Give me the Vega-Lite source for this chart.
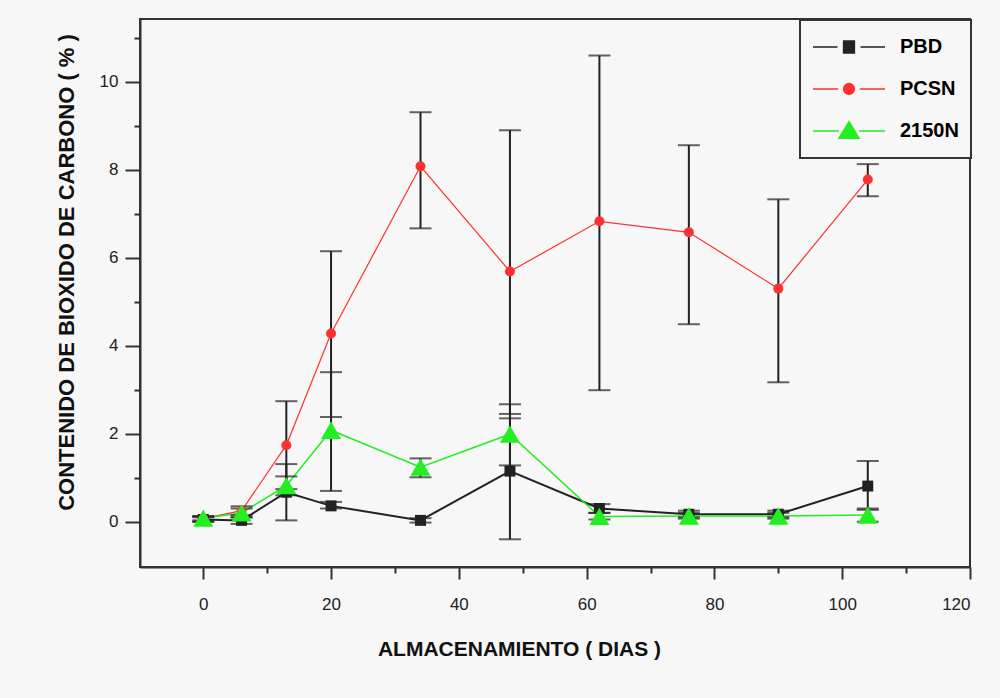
{
  "$schema": "https://vega.github.io/schema/vega-lite/v6.json",
  "width": 830,
  "height": 548,
  "autosize": "none",
  "padding": {"left": 140, "top": 19, "right": 30, "bottom": 131},
  "background": "#f7f7f7",
  "config": {
    "view": {"stroke": "#333", "strokeWidth": 2, "fill": "#f7f7f7"},
    "font": "Liberation Sans",
    "legend": {"strokeWidth": 2}
  },
  "resolve": {"legend": {"color": "independent"}},
  "data": {
    "values": [
      {"serie": "PBD", "dia": 0, "valor": 0.05, "inf": 0.0, "sup": 0.1},
      {"serie": "PBD", "dia": 6, "valor": 0.03, "inf": -0.05, "sup": 0.1},
      {"serie": "PBD", "dia": 13, "valor": 0.67, "inf": 0.03, "sup": 1.31},
      {"serie": "PBD", "dia": 20, "valor": 0.36, "inf": 0.3, "sup": 0.45},
      {"serie": "PBD", "dia": 34, "valor": 0.03, "inf": -0.02, "sup": 0.08},
      {"serie": "PBD", "dia": 48, "valor": 1.15, "inf": -0.4, "sup": 2.67},
      {"serie": "PBD", "dia": 62, "valor": 0.3, "inf": 0.2, "sup": 0.4},
      {"serie": "PBD", "dia": 76, "valor": 0.17, "inf": 0.1, "sup": 0.25},
      {"serie": "PBD", "dia": 90, "valor": 0.17, "inf": 0.1, "sup": 0.25},
      {"serie": "PBD", "dia": 104, "valor": 0.81, "inf": 0.27, "sup": 1.38},
      {"serie": "PCSN", "dia": 0, "valor": 0.07, "inf": 0.0, "sup": 0.12},
      {"serie": "PCSN", "dia": 6, "valor": 0.25, "inf": 0.15, "sup": 0.35},
      {"serie": "PCSN", "dia": 13, "valor": 1.74, "inf": 0.74, "sup": 2.74},
      {"serie": "PCSN", "dia": 20, "valor": 4.28, "inf": 2.38, "sup": 6.15},
      {"serie": "PCSN", "dia": 34, "valor": 8.08, "inf": 6.67, "sup": 9.31},
      {"serie": "PCSN", "dia": 48, "valor": 5.69, "inf": 2.45, "sup": 8.9},
      {"serie": "PCSN", "dia": 62, "valor": 6.83, "inf": 2.99, "sup": 10.6},
      {"serie": "PCSN", "dia": 76, "valor": 6.58, "inf": 4.49, "sup": 8.56},
      {"serie": "PCSN", "dia": 90, "valor": 5.3, "inf": 3.17, "sup": 7.33},
      {"serie": "PCSN", "dia": 104, "valor": 7.78, "inf": 7.4, "sup": 8.13},
      {"serie": "2150N", "dia": 0, "valor": 0.08, "inf": 0.03, "sup": 0.13},
      {"serie": "2150N", "dia": 6, "valor": 0.2, "inf": 0.1, "sup": 0.3},
      {"serie": "2150N", "dia": 13, "valor": 0.82, "inf": 0.6, "sup": 1.03},
      {"serie": "2150N", "dia": 20, "valor": 2.08, "inf": 0.7, "sup": 3.4},
      {"serie": "2150N", "dia": 34, "valor": 1.24, "inf": 1.01, "sup": 1.44},
      {"serie": "2150N", "dia": 48, "valor": 1.99, "inf": 1.28, "sup": 2.35},
      {"serie": "2150N", "dia": 62, "valor": 0.12, "inf": 0.05, "sup": 0.2},
      {"serie": "2150N", "dia": 76, "valor": 0.13, "inf": 0.07, "sup": 0.2},
      {"serie": "2150N", "dia": 90, "valor": 0.13, "inf": 0.07, "sup": 0.2},
      {"serie": "2150N", "dia": 104, "valor": 0.15, "inf": 0.0, "sup": 0.3}
    ]
  },
  "encoding": {
    "x": {
      "field": "dia",
      "type": "quantitative",
      "scale": {"domain": [-9.9, 120], "nice": false, "zero": false},
      "axis": {
        "values": [0, 10, 20, 30, 40, 50, 60, 70, 80, 90, 100, 110, 120],
        "labelExpr": "datum.value % 20 === 0 ? datum.label : ''",
        "tickSize": {"condition": {"test": "datum.value % 20 === 0", "value": 12}, "value": 6},
        "tickColor": "#333",
        "tickWidth": 2,
        "domainColor": "#333",
        "domainWidth": 2,
        "grid": false,
        "labelFont": "Liberation Sans",
        "labelFontSize": 17,
        "labelColor": "#222",
        "labelPadding": 17,
        "title": "ALMACENAMIENTO ( DIAS )",
        "titleFont": "Liberation Sans",
        "titleFontSize": 21,
        "titleFontWeight": "bold",
        "titleColor": "#111",
        "titleX": 379,
        "titleY": 88,
        "titleBaseline": "alphabetic"
      }
    }
  },
  "layer": [
    {
      "mark": {"type": "line"},
      "encoding": {
        "y": {
          "field": "valor",
          "type": "quantitative",
          "scale": {"domain": [-1.03, 11.43], "nice": false, "zero": false},
          "axis": {
            "values": [0, 1, 2, 3, 4, 5, 6, 7, 8, 9, 10, 11],
            "labelExpr": "datum.value % 2 === 0 ? datum.label : ''",
            "tickSize": {"condition": {"test": "datum.value % 2 === 0", "value": 15}, "value": 6},
            "tickColor": "#333",
            "tickWidth": 2,
            "domainColor": "#333",
            "domainWidth": 2,
            "grid": false,
            "labelFont": "Liberation Sans",
            "labelFontSize": 17,
            "labelColor": "#222",
            "labelPadding": 7,
            "title": "CONTENIDO DE BIOXIDO DE CARBONO ( % )",
            "titleFont": "Liberation Sans",
            "titleFontSize": 22,
            "titleFontWeight": "bold",
            "titleColor": "#111",
            "titleX": -67,
            "titleY": 253,
            "titleBaseline": "alphabetic"
          }
        },
        "color": {
          "field": "serie",
          "type": "nominal",
          "scale": {"domain": ["PBD", "PCSN", "2150N"], "range": ["#222222", "#ff3030", "#22ee22"]},
          "legend": {
            "title": null,
            "orient": "none",
            "legendX": 660,
            "legendY": 1,
            "direction": "vertical",
            "padding": 12,
            "strokeColor": "#333",
            "fillColor": "#f7f7f7",
            "symbolSize": 5184,
            "symbolStrokeWidth": 1.5,
            "clipHeight": 30,
            "rowPadding": 12,
            "labelOffset": 14,
            "labelFont": "Liberation Sans",
            "labelFontSize": 20,
            "labelFontWeight": "bold",
            "labelColor": "#000",
            "encode": {
              "symbols": {
                "update": {
                  "shape": {"signal": "datum.value === 'PBD' ? 'M-1,0H-0.32M0.32,0H1M-0.15,-0.17H0.15V0.17H-0.15Z' : datum.value === 'PCSN' ? 'M-1,0H-0.3M0.3,0H1M0.15,0A0.15,0.15,0,1,1,-0.15,0A0.15,0.15,0,1,1,0.15,0Z' : 'M-1,0H-0.28M0.28,0H1M0,-0.26L0.28,0.2L-0.28,0.2Z'"},
                  "size": {"value": 5184},
                  "fill": {"scale": "color", "field": "value"},
                  "stroke": {"scale": "color", "field": "value"},
                  "strokeWidth": {"value": 1.5},
                  "opacity": {"value": 1}
                }
              }
            }
          }
        },
        "strokeWidth": {
          "field": "serie",
          "type": "nominal",
          "scale": {"type": "ordinal", "domain": ["PBD", "PCSN", "2150N"], "range": [2, 1.2, 1.5]},
          "legend": null
        }
      }
    },
    {
      "mark": {"type": "rule", "color": "#222", "strokeWidth": 2},
      "encoding": {
        "y": {"field": "inf", "type": "quantitative"},
        "y2": {"field": "sup"}
      }
    },
    {
      "mark": {"type": "tick", "orient": "horizontal", "color": "#222", "size": 22, "thickness": 2},
      "encoding": {"y": {"field": "inf", "type": "quantitative"}}
    },
    {
      "mark": {"type": "tick", "orient": "horizontal", "color": "#222", "size": 22, "thickness": 2},
      "encoding": {"y": {"field": "sup", "type": "quantitative"}}
    },
    {
      "mark": {"type": "point", "filled": true, "opacity": 1},
      "encoding": {
        "y": {"field": "valor", "type": "quantitative"},
        "color": {"field": "serie", "type": "nominal", "legend": null},
        "shape": {
          "field": "serie",
          "type": "nominal",
          "scale": {"domain": ["PBD", "PCSN", "2150N"], "range": ["square", "circle", "triangle-up"]},
          "legend": null
        },
        "size": {
          "field": "serie",
          "type": "nominal",
          "scale": {"type": "ordinal", "domain": ["PBD", "PCSN", "2150N"], "range": [120, 100, 400]},
          "legend": null
        }
      }
    }
  ]
}
